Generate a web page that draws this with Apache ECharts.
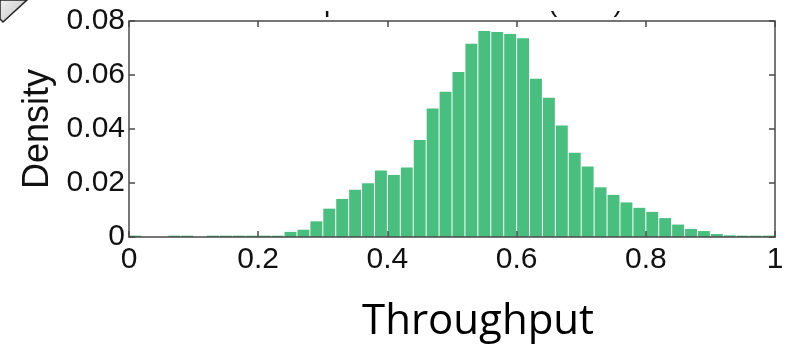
<!DOCTYPE html>
<html>
<head>
<meta charset="utf-8">
<script src="https://cdn.jsdelivr.net/npm/echarts@6/dist/echarts.min.js"></script>
<style>
  html, body { margin: 0; padding: 0; background: #ffffff; }
  #chart { width: 796px; height: 344px; }
</style>
</head>
<body>
<div id="chart"></div>
<script>
// Histogram bins: centre of each 0.02-wide throughput bin
const binCenters = [
  0.01, 0.03, 0.05, 0.07, 0.09, 0.11, 0.13, 0.15, 0.17, 0.19,
  0.21, 0.23, 0.25, 0.27, 0.29, 0.31, 0.33, 0.35, 0.37, 0.39,
  0.41, 0.43, 0.45, 0.47, 0.49, 0.51, 0.53, 0.55, 0.57, 0.59,
  0.61, 0.63, 0.65, 0.67, 0.69, 0.71, 0.73, 0.75, 0.77, 0.79,
  0.81, 0.83, 0.85, 0.87, 0.89, 0.91, 0.93, 0.95, 0.97, 0.99
];

// Density of each bin
const density = [
  0.0005, 0, 0, 0.0005, 0.0005, 0, 0.0005, 0.0005, 0.0005, 0.0005,
  0.0005, 0.0005, 0.0019, 0.0027, 0.0058, 0.0105, 0.0141, 0.0175, 0.0199, 0.0246,
  0.0230, 0.0257, 0.0359, 0.0476, 0.0538, 0.0611, 0.0716, 0.0763, 0.0759, 0.0752,
  0.0736, 0.0586, 0.0516, 0.0413, 0.0312, 0.0261, 0.0184, 0.0156, 0.0128, 0.0108,
  0.0093, 0.0070, 0.0046, 0.0030, 0.0022, 0.0011, 0.0006, 0.0005, 0.0005, 0.0005
];

// Axis ticks
const xTicks = [0, 0.2, 0.4, 0.6, 0.8, 1];
const yTicks = [0, 0.02, 0.04, 0.06, 0.08];

const xLabel = 'Throughput';
const yLabel = 'Density';
const titleText = 'Empirical distribution (TCP)';

const barColor = '#48bf7e';
const axisColor = '#4a4a4a';
const tickFont = { fontFamily: 'Liberation Sans', fontSize: 30, color: '#111111' };

const chart = echarts.init(document.getElementById('chart'), null, { renderer: 'canvas' });

const xStep = xTicks[1] - xTicks[0];
const yStep = yTicks[1] - yTicks[0];

const frameLine = { show: true, onZero: false, lineStyle: { color: axisColor, width: 1.5 } };
const innerTick = { show: true, inside: true, length: 6, lineStyle: { color: axisColor, width: 1.5 } };

chart.setOption({
  animation: false,
  backgroundColor: '#ffffff',
  grid: { left: 129, right: 21, top: 21, bottom: 107, containLabel: false },
  xAxis: [
    {
      type: 'value', position: 'bottom', z: 5,
      min: xTicks[0], max: xTicks[xTicks.length - 1], interval: xStep,
      axisLine: frameLine, axisTick: innerTick, splitLine: { show: false },
      axisLabel: Object.assign({ margin: 8, formatter: v => String(+v.toFixed(1)) }, tickFont)
    },
    {
      type: 'value', position: 'top', z: 5,
      min: xTicks[0], max: xTicks[xTicks.length - 1], interval: xStep,
      axisLine: frameLine, axisTick: innerTick, splitLine: { show: false },
      axisLabel: { show: false }
    }
  ],
  yAxis: [
    {
      type: 'value', position: 'left', z: 5,
      min: yTicks[0], max: yTicks[yTicks.length - 1], interval: yStep,
      axisLine: frameLine, axisTick: innerTick, splitLine: { show: false },
      axisLabel: Object.assign({ margin: 4, formatter: v => (v === 0 ? '0' : v.toFixed(2)) }, tickFont),
      name: yLabel, nameLocation: 'middle', nameGap: 73, nameRotate: 90,
      nameTextStyle: { fontFamily: 'Liberation Sans', fontSize: 36, color: '#111111' }
    },
    {
      type: 'value', position: 'right', z: 5,
      min: yTicks[0], max: yTicks[yTicks.length - 1], interval: yStep,
      axisLine: frameLine, axisTick: innerTick, splitLine: { show: false },
      axisLabel: { show: false }
    }
  ],
  graphic: [
    {
      // title sits mostly above the page edge; only its lowest strokes show
      type: 'text', z: 10, left: 282, top: -11,
      style: { text: titleText, fontFamily: 'Liberation Sans', fontSize: 28, fill: '#111111' }
    },
    {
      type: 'rect', z: 11,
      shape: { x: 140, y: 0, width: 620, height: 11 },
      style: { fill: '#ffffff' }
    },
    {
      type: 'polygon', z: 12,
      shape: { points: [[0, 0], [27, 0], [3, 22], [0, 19]] },
      style: {
        fill: new echarts.graphic.LinearGradient(0, 0, 1, 1, [
          { offset: 0, color: '#f2f2f2' }, { offset: 1, color: '#bdbdbd' }
        ]),
        stroke: '#222222', lineWidth: 1.5
      }
    },
    {
      type: 'text', z: 10, left: 362, top: 301,
      style: { text: xLabel, fontFamily: 'Open Sans', fontSize: 42, fill: '#000000' }
    }
  ],
  series: [
    {
      type: 'bar',
      xAxisIndex: 0, yAxisIndex: 0,
      barWidth: 11.9,
      itemStyle: { color: barColor },
      data: binCenters.map((c, i) => [c, density[i]])
    }
  ]
});
</script>
</body>
</html>
